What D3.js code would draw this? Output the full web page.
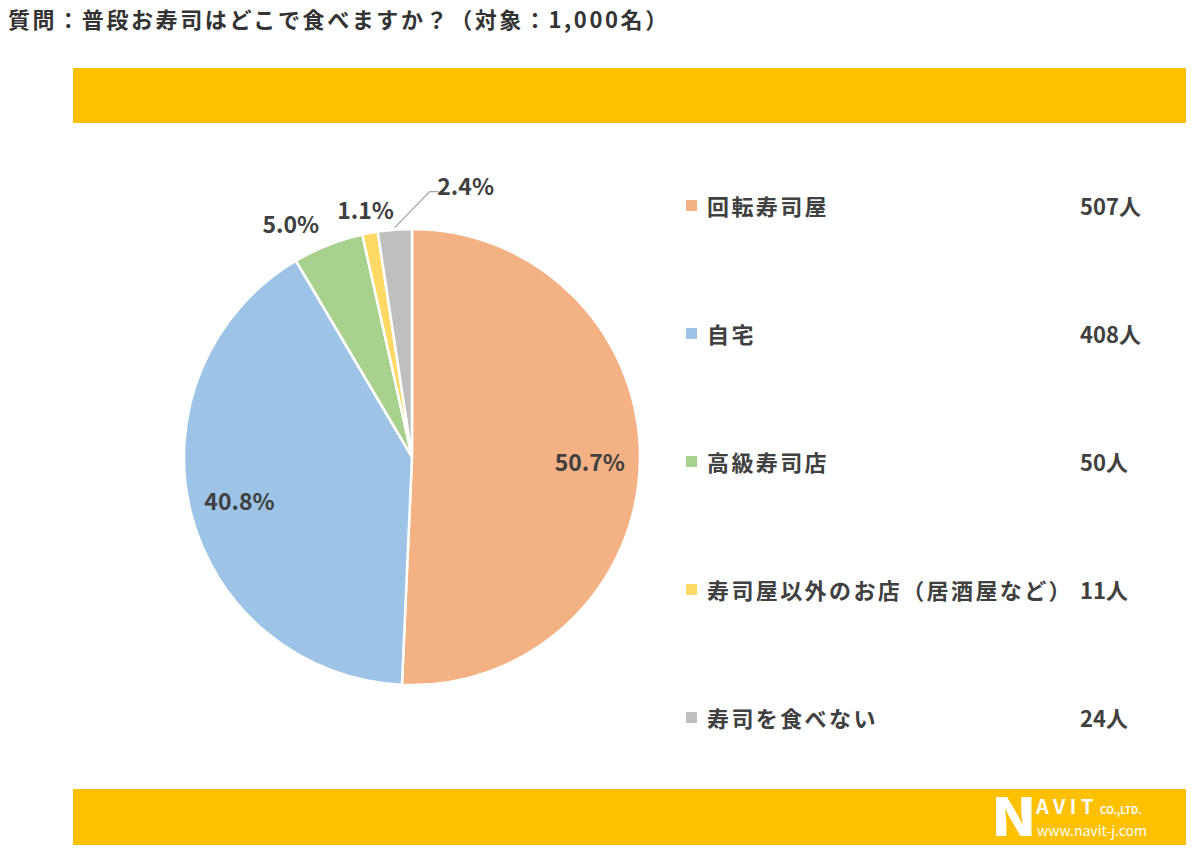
<!DOCTYPE html>
<html><head><meta charset="utf-8">
<script src="https://cdn.jsdelivr.net/npm/d3@7"></script>
<style>
html,body{margin:0;padding:0;background:#fff;}
svg{display:block;}
text{font-family:"Noto Sans CJK JP","Noto Sans",sans-serif;}
</style></head>
<body>
<svg id="chart" width="1200" height="853"></svg>
<script>
const title = "質問：普段お寿司はどこで食べますか？（対象：1,000名）";
const categories = ["回転寿司屋","自宅","高級寿司店","寿司屋以外のお店（居酒屋など）","寿司を食べない"];
const counts = [507,408,50,11,24];
const percents = ["50.7%","40.8%","5.0%","1.1%","2.4%"];
const colors = ["#F4B183","#9DC3E6","#A9D18E","#FFD966","#BFBFBF"];
const unit = "人";

const svg = d3.select("#chart");
const band = "#FFC000";

// title
svg.append("text").attr("x",8).attr("y",28)
  .attr("font-size",22).attr("font-weight",700).attr("fill","#333")
  .attr("letter-spacing",2.6)
  .text(title);

// bands
svg.append("rect").attr("x",73).attr("y",68).attr("width",1113).attr("height",55).attr("fill",band);
svg.append("rect").attr("x",73).attr("y",789).attr("width",1113).attr("height",56).attr("fill",band);

// pie
const cx = 412, cy = 457, R = 228;
const pie = d3.pie().sort(null).value(d=>d.v);
const data = categories.map((c,i)=>({c, v:counts[i], p:percents[i], col:colors[i]}));
const arcs = pie(data);
const arc = d3.arc().innerRadius(0).outerRadius(R);
const g = svg.append("g").attr("transform",`translate(${cx},${cy})`);
g.selectAll("path.slice").data(arcs).enter().append("path")
  .attr("class","slice").attr("d",arc).attr("fill",d=>d.data.col)
  .attr("stroke","#fff").attr("stroke-width",2.5).attr("stroke-linejoin","round");

const inArc = d3.arc().innerRadius(R*0.78).outerRadius(R*0.78);
const outArc = d3.arc().innerRadius(R*1.105).outerRadius(R*1.105);
const lblStyle = s => s.attr("font-size",23).attr("font-weight",700).attr("fill","#404040").attr("text-anchor","middle").attr("dominant-baseline","central");

arcs.forEach((a,i)=>{
  if (i < 2) {
    const [x,y] = inArc.centroid(a);
    g.append("text").attr("x",x).attr("y",y).call(lblStyle).text(a.data.p);
  } else if (i < 4) {
    const [x,y] = outArc.centroid(a);
    g.append("text").attr("x",x).attr("y",y).call(lblStyle)
      .attr("text-anchor", i===2 ? "end" : "middle").text(a.data.p);
  } else {
    // leader line label
    const mid = (a.startAngle + a.endAngle)/2;
    const p0 = [Math.sin(mid)*(R+2), -Math.cos(mid)*(R+2)];
    const p1 = [p0[0]+35, p0[1]-36];
    const p2 = [p1[0]+9, p1[1]];
    g.append("polyline").attr("points",[p0,p1,p2].map(p=>p.join(",")).join(" "))
      .attr("fill","none").attr("stroke","#a6a6a6").attr("stroke-width",1.3);
    g.append("text").attr("x",p2[0]+27).attr("y",p2[1]-7).call(lblStyle).text(a.data.p);
  }
});

// legend
const ly = d3.scalePoint().domain(categories).range([205,717]);
const leg = svg.append("g");
data.forEach(d=>{
  const y = ly(d.c);
  leg.append("rect").attr("x",686).attr("y",y-5).attr("width",11).attr("height",11).attr("fill",d.col);
  leg.append("text").attr("x",707).attr("y",y).attr("dominant-baseline","central")
    .attr("font-size",22).attr("font-weight",700).attr("fill","#404040").attr("letter-spacing",2.4).text(d.c);
  leg.append("text").attr("x",1080).attr("y",y).attr("dominant-baseline","central")
    .attr("font-size",22).attr("font-weight",700).attr("fill","#404040").text(d.v+unit);
});

// logo
const logo = svg.append("g").attr("fill","#fff").attr("font-family","Arial, 'Liberation Sans', sans-serif");
logo.append("text").attr("x",0).attr("y",0).attr("font-size",52).attr("font-weight",900)
  .attr("transform","translate(991,836) scale(1.15,1)").text("N");
logo.append("text").attr("x",1036).attr("y",814).attr("font-size",20).attr("font-weight",700)
  .attr("letter-spacing",4.5).text("AVIT");
logo.append("text").attr("x",1100).attr("y",814).attr("font-size",10).attr("font-weight",700)
  .text("CO.,LTD.");
logo.append("text").attr("x",1037).attr("y",836).attr("font-size",14)
  .text("www.navit-j.com");
</script>
</body></html>
